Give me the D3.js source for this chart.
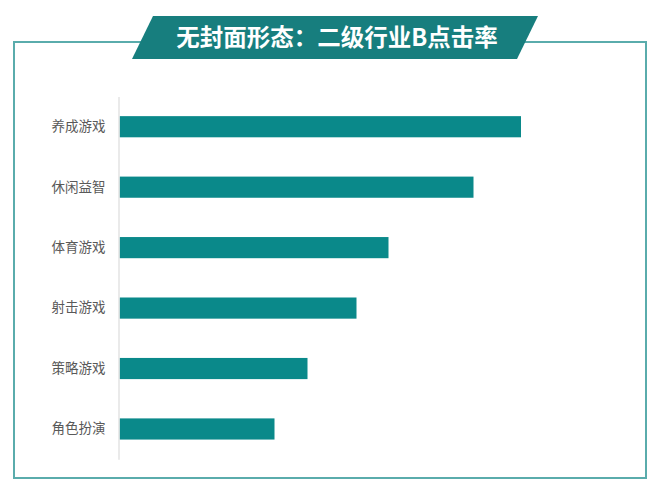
<!DOCTYPE html>
<html>
<head>
<meta charset="utf-8">
<script src="https://cdn.jsdelivr.net/npm/d3@7"></script>
<style>
  html, body { margin: 0; padding: 0; background: #fff; }
  svg { display: block; }
  .cat-label { font-family: "Noto Sans CJK SC", "Noto Sans", sans-serif; font-size: 13.5px; fill: #595959; }
  .title-text { font-family: "Noto Sans CJK SC", "Noto Sans", sans-serif; font-size: 23.5px; font-weight: bold; fill: #fff; }
</style>
</head>
<body>
<div id="chart"></div>
<script>
// chart data
const titleText = "无封面形态：二级行业B点击率";
const categories = ["养成游戏", "休闲益智", "体育游戏", "射击游戏", "策略游戏", "角色扮演"];
const values = [80.3, 70.8, 53.8, 47.4, 37.6, 31.0];

const width = 660, height = 491;

const svg = d3.select("#chart")
    .append("svg")
    .attr("width", width)
    .attr("height", height);

// outer frame
svg.append("rect")
    .attr("x", 14)
    .attr("y", 42)
    .attr("width", 632)
    .attr("height", 436)
    .attr("fill", "none")
    .attr("stroke", "#5aacac")
    .attr("stroke-width", 2);

// title banner (parallelogram)
const banner = [[153, 16], [538, 16], [517, 59], [132, 59]];
svg.append("polygon")
    .attr("points", banner.map(p => p.join(",")).join(" "))
    .attr("fill", "#177e7e");

svg.append("text")
    .attr("class", "title-text")
    .attr("x", 337)
    .attr("y", 46)
    .attr("text-anchor", "middle")
    .text(titleText);

// scales
const x = d3.scaleLinear()
    .domain([0, 100])
    .range([119.5, 619.5]);

const y = d3.scaleBand()
    .domain(categories)
    .range([96.5, 459.2])
    .paddingInner(0.65)
    .paddingOuter(0.325);

// bars
svg.append("g")
    .selectAll("rect")
    .data(values)
    .join("rect")
    .attr("x", x(0))
    .attr("y", (d, i) => y(categories[i]))
    .attr("width", d => x(d) - x(0))
    .attr("height", y.bandwidth())
    .attr("fill", "#0a898a");

// category axis
const yAxis = svg.append("g")
    .attr("transform", "translate(" + (x(0) - 1) + ",0)")
    .call(d3.axisLeft(y).tickSize(0).tickPadding(13));

yAxis.select(".domain")
    .attr("stroke", "#e3e3e3")
    .attr("stroke-width", 1.5);

yAxis.selectAll(".tick text")
    .attr("class", "cat-label")
    .attr("font-family", null)
    .attr("font-size", null)
    .attr("fill", null);
</script>
</body>
</html>
